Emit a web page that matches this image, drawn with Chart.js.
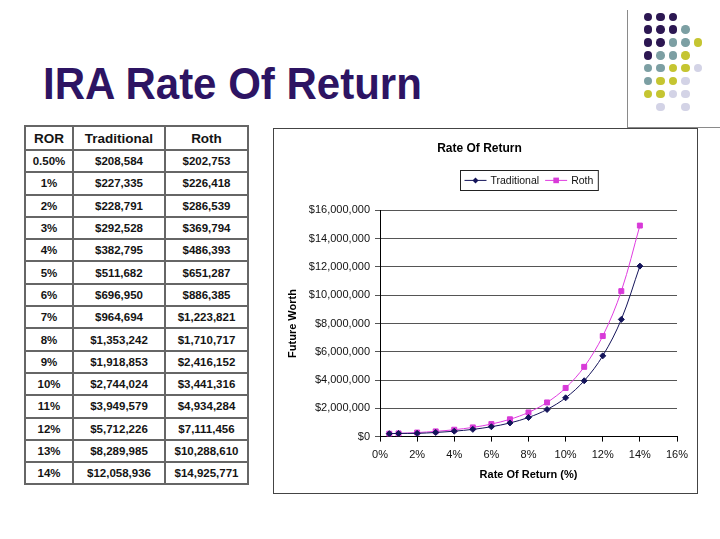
<!DOCTYPE html>
<html>
<head>
<meta charset="utf-8">
<script src="https://cdn.jsdelivr.net/npm/chart.js@4.4.0/dist/chart.umd.min.js"></script>
<style>
body { margin:0; background:#fff; width:720px; height:539px; position:relative; overflow:hidden; font-family:"Liberation Sans", Arial, sans-serif; }
#title { position:absolute; left:43px; top:64px; margin:0; font-size:42px; line-height:42px; font-weight:bold; color:#2d1463; transform:scaleY(1.06); transform-origin:0 36px; white-space:nowrap; }
#vline { position:absolute; left:627px; top:10px; width:1px; height:118px; background:#8a8a8a; }
#hline { position:absolute; left:627px; top:127px; width:93px; height:1px; background:#8a8a8a; }
.dot { position:absolute; width:8.5px; height:8.5px; border-radius:50%; }
#tbl { position:absolute; left:24px; top:125px; border-collapse:collapse; table-layout:fixed; width:223px; font-weight:bold; color:#141414; }
#tbl td, #tbl th { border:2px solid #666; text-align:center; padding:0; height:20.3px; font-size:11.5px; white-space:nowrap; }
#tbl th { height:22px; font-size:13.5px; }
#box { position:absolute; left:273px; top:128px; width:423px; height:364px; border:1px solid #444; }
#chart { position:absolute; left:0; top:0; }
</style>
</head>
<body>
<div id="title">IRA Rate Of Return</div>
<div id="vline"></div>
<div id="hline"></div>
<table id="tbl">
  <colgroup><col style="width:48px"><col style="width:92px"><col style="width:83px"></colgroup>
  <thead><tr><th>ROR</th><th>Traditional</th><th>Roth</th></tr></thead>
  <tbody id="tbody"></tbody>
</table>
<div id="box"><canvas id="chart" width="423" height="364"></canvas></div>
<script>
// data dari tabel
const ror = [0.5, 1, 2, 3, 4, 5, 6, 7, 8, 9, 10, 11, 12, 13, 14];
const rorLabels = ['0.50%', '1%', '2%', '3%', '4%', '5%', '6%', '7%', '8%', '9%', '10%', '11%', '12%', '13%', '14%'];
const traditional = [208584, 227335, 228791, 292528, 382795, 511682, 696950, 964694, 1353242, 1918853, 2744024, 3949579, 5712226, 8289985, 12058936];
const roth = [202753, 226418, 286539, 369794, 486393, 651287, 886385, 1223821, 1710717, 2416152, 3441316, 4934284, 7111456, 10288610, 14925771];
const seriesNames = ['Traditional', 'Roth'];
const chartTitle = 'Rate Of Return';
const xTitle = 'Rate Of Return (%)';
const yTitle = 'Future Worth';

// titik dekorasi pojok kanan atas
const dotRows = ['DDD', 'DDDT', 'DDTTY', 'DTTY', 'TTYYL', 'TYYL', 'YYLL', '.L.L'];
const dotColors = { D: '#2c1752', T: '#7c9fa3', Y: '#c5c531', L: '#d3d3e6' };

function money(v) {
    return '$' + Math.round(v).toLocaleString('en-US');
}

// isi tabel
const tbody = document.getElementById('tbody');
ror.forEach(function (r, i) {
    const tr = document.createElement('tr');
    tr.innerHTML = '<td>' + rorLabels[i] + '</td><td>' + money(traditional[i]) + '</td><td>' + money(roth[i]) + '</td>';
    tbody.appendChild(tr);
});

// gambar titik
dotRows.forEach(function (row, r) {
    row.split('').forEach(function (c, k) {
        if (c === '.') return;
        const d = document.createElement('div');
        d.className = 'dot';
        d.style.left = (643.5 + k * 12.5) + 'px';
        d.style.top = (12.5 + r * 12.86) + 'px';
        d.style.background = dotColors[c];
        document.body.appendChild(d);
    });
});

const navy = '#14145a';
const magenta = '#e03ce0';
const fontFam = '"Liberation Sans", Arial, sans-serif';

function drawMarker(ctx, style, x, y, r, color) {
    ctx.fillStyle = color;
    ctx.beginPath();
    if (style === 'rectRot') {
        ctx.moveTo(x, y - r); ctx.lineTo(x + r, y); ctx.lineTo(x, y + r); ctx.lineTo(x - r, y);
    } else {
        ctx.rect(x - r * 0.8, y - r * 0.8, r * 1.6, r * 1.6);
    }
    ctx.closePath();
    ctx.fill();
}

// legend dengan kotak ala Excel
const boxedLegend = {
    id: 'boxedLegend',
    afterDraw(chart) {
        const ctx = chart.ctx;
        const area = chart.chartArea;
        const ds = chart.data.datasets;
        ctx.save();
        ctx.font = '10.5px ' + fontFam;
        const icon = 22, padL = 4, padR = 5, gapIcon = 4, gapItem = 6;
        let total = padL + padR;
        ds.forEach(function (d, i) {
            total += icon + gapIcon + ctx.measureText(d.label).width;
            if (i > 0) total += gapItem;
        });
        const cx = (area.left + area.right) / 2;
        const cy = area.top - 30;
        let x = Math.round(cx - total / 2) + 0.5;
        const top = Math.round(cy - 10) + 0.5;
        ctx.strokeStyle = '#222';
        ctx.lineWidth = 1;
        ctx.strokeRect(x, top, total, 20);
        x += padL;
        ds.forEach(function (d, i) {
            if (i > 0) x += gapItem;
            ctx.strokeStyle = d.borderColor;
            ctx.lineWidth = 1;
            ctx.beginPath();
            ctx.moveTo(x, cy); ctx.lineTo(x + icon, cy);
            ctx.stroke();
            drawMarker(ctx, d.pointStyle, x + icon / 2, cy, d.pointRadius, d.pointBackgroundColor);
            x += icon + gapIcon;
            ctx.fillStyle = '#111';
            ctx.textBaseline = 'middle';
            ctx.textAlign = 'left';
            ctx.fillText(d.label, x, cy + 0.5);
            x += ctx.measureText(d.label).width;
        });
        ctx.restore();
    }
};

const ctx = document.getElementById('chart').getContext('2d');
new Chart(ctx, {
    type: 'line',
    data: {
        datasets: [{
            label: seriesNames[0],
            data: ror.map(function (r, i) { return { x: r, y: traditional[i] }; }),
            borderColor: navy,
            backgroundColor: navy,
            pointBackgroundColor: navy,
            pointBorderColor: navy,
            pointStyle: 'rectRot',
            pointRadius: 3,
            borderWidth: 1,
            tension: 0.35,
            fill: false
        }, {
            label: seriesNames[1],
            data: ror.map(function (r, i) { return { x: r, y: roth[i] }; }),
            borderColor: magenta,
            backgroundColor: magenta,
            pointBackgroundColor: '#d83ad8',
            pointBorderColor: '#d83ad8',
            pointStyle: 'rect',
            pointRadius: 3.5,
            borderWidth: 1,
            tension: 0.35,
            fill: false
        }]
    },
    options: {
        responsive: false,
        animation: false,
        layout: { padding: { left: 8, right: 20, top: 8, bottom: 7 } },
        plugins: {
            legend: { display: false },
            tooltip: { enabled: false },
            title: {
                display: true,
                text: chartTitle,
                color: '#000',
                font: { family: fontFam, size: 12, weight: 'bold' },
                padding: { top: 4, bottom: 55 }
            }
        },
        scales: {
            x: {
                type: 'linear',
                min: 0,
                max: 16,
                ticks: { stepSize: 2, callback: function (v) { return v + '%'; }, color: '#111', font: { family: fontFam, size: 11 }, padding: 7, maxRotation: 0 },
                grid: { drawOnChartArea: false, tickLength: 5, color: '#000' },
                border: { color: '#000' },
                title: { display: true, text: xTitle, color: '#000', font: { family: fontFam, size: 11, weight: 'bold' }, padding: { top: 0, bottom: 4 } }
            },
            y: {
                min: 0,
                max: 16000000,
                ticks: { stepSize: 2000000, callback: function (v) { return money(v); }, color: '#111', font: { family: fontFam, size: 11 }, padding: 5 },
                grid: { color: '#555', tickLength: 5 },
                border: { color: '#000' },
                title: { display: true, text: yTitle, color: '#000', font: { family: fontFam, size: 11, weight: 'bold' }, padding: { top: 4, bottom: 4 } },
                afterFit: function (scale) { scale.width = 98; }
            }
        }
    },
    plugins: [boxedLegend]
});
</script>
</body>
</html>
